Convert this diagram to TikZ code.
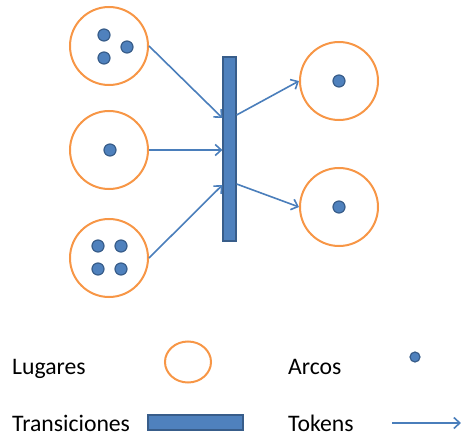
\documentclass[tikz,border=0pt]{standalone}
\usepackage{fontspec}
\setmainfont{Carlito}
\usetikzlibrary{arrows.meta,shapes.geometric}
\definecolor{lugar}{HTML}{F79646}
\definecolor{tokfill}{HTML}{4F81BD}
\definecolor{tokdraw}{HTML}{385D8A}
\definecolor{arco}{HTML}{4A7EBB}
\tikzset{
  lugar/.style={circle, draw=lugar, line width=2pt, minimum size=78pt, inner sep=0pt},
  token/.style={circle, fill=tokfill, draw=tokdraw, line width=1.2pt, minimum size=12pt, inner sep=0pt},
  trans/.style={rectangle, fill=tokfill, draw=tokdraw, line width=1.2pt, inner sep=0pt},
  arco/.style={draw=arco, line width=1.6pt, -{Straight Barb[length=6pt,width=11pt,line width=1.6pt]}},
  lbl/.style={anchor=base west, inner sep=0pt, font=\fontsize{23.7}{28}\selectfont}
}
\begin{document}
\begin{tikzpicture}[x=1pt,y=-1pt]
\useasboundingbox (0,0) rectangle (461,436);
% places
\node[lugar] (p1) at (109,46) {};
\node[lugar] (p2) at (109,150) {};
\node[lugar] (p3) at (109,258) {};
\node[lugar] (p4) at (339,81) {};
\node[lugar] (p5) at (339,207) {};
% tokens
\node[token] (k1) at (104,35) {};
\node[token] (k2) at (127,47) {};
\node[token] (k3) at (104,58) {};
\node[token] (k4) at (110,150) {};
\node[token] (k5) at (98,246) {};
\node[token] (k6) at (121,246) {};
\node[token] (k7) at (98,269) {};
\node[token] (k8) at (121,269) {};
\node[token] (k9) at (339,81) {};
\node[token] (k10) at (339,207) {};
% transition
\node[trans, minimum width=13pt, minimum height=184pt] (t) at (229.5,149) {};
\coordinate (ti1) at (t.west |- 0,118);
\coordinate (ti2) at (t.west |- 0,150);
\coordinate (ti3) at (t.west |- 0,185);
\coordinate (to1) at (t.east |- 0,115);
\coordinate (to2) at (t.east |- 0,184);
% arcs
\draw[arco] (p1.east) -- (ti1);
\draw[arco] (p2.east) -- (ti2);
\draw[arco] (p3.east) -- (ti3);
\draw[arco] (to1) -- (p4.west);
\draw[arco] (to2) -- (p5.west);
% legend
\node[lbl] (l1) at (12,374) {Lugares};
\node[draw=lugar, line width=2pt, ellipse, minimum width=46pt, minimum height=41pt, inner sep=0pt] (e1) at (188,362) {};
\node[lbl] (l2) at (288,374) {Arcos};
\node[token, minimum size=10pt] (e2) at (415,357) {};
\node[lbl] (l3) at (12,431) {Transiciones};
\node[trans, minimum width=95pt, minimum height=15pt] (e3) at (195.5,422.5) {};
\node[lbl] (l4) at (288,431) {Tokens};
\coordinate (a1) at (392,423);
\coordinate (a2) at (461,423);
\draw[arco] (a1) -- (a2);
\end{tikzpicture}
\end{document}
